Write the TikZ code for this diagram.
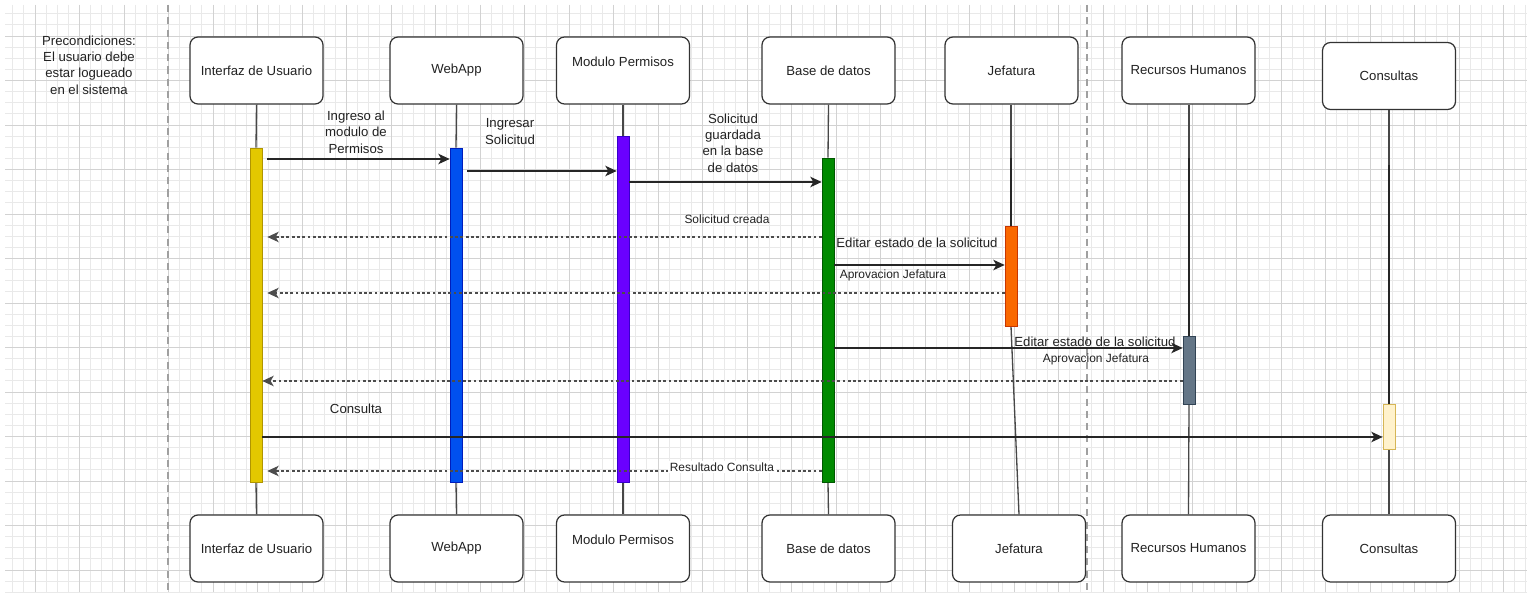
\documentclass[tikz,border=0pt]{standalone}
\usepackage{fontspec}
\setmainfont{Liberation Sans}
\usetikzlibrary{arrows.meta,calc}
\definecolor{txt}{HTML}{222222}
\definecolor{boxborder}{HTML}{333333}
\definecolor{gridminor}{HTML}{E9E9E9}
\definecolor{gridmajor}{HTML}{D2D2D2}
\definecolor{sepcol}{HTML}{A0A0A0}
\definecolor{actyellow}{HTML}{E3C800}
\definecolor{actyellowd}{HTML}{B09500}
\definecolor{actblue}{HTML}{0050EF}
\definecolor{actblued}{HTML}{001DBC}
\definecolor{actpurple}{HTML}{6A00FF}
\definecolor{actpurpled}{HTML}{3700CC}
\definecolor{actgreen}{HTML}{008A00}
\definecolor{actgreend}{HTML}{005700}
\definecolor{actorange}{HTML}{FA6800}
\definecolor{actoranged}{HTML}{C73500}
\definecolor{actslate}{HTML}{647687}
\definecolor{actslated}{HTML}{314354}
\definecolor{actcream}{HTML}{FFF2CC}
\definecolor{actcreamd}{HTML}{D6B656}
\newcommand\dfont{\fontsize{7.5}{9.3}\selectfont}
\newcommand\sfont{\fontsize{6.8}{8.5}\selectfont}
\begin{document}
\begin{tikzpicture}[x=0.02cm,y=-0.02cm,
  box/.style={draw=boxborder, line width=0.7pt, rounded corners=0.16cm, fill=white,
    minimum width=2.66cm, minimum height=1.34cm, inner sep=0pt, font=\dfont, text=txt},
  act/.style n args={3}{fill=#1, draw=#2, line width=0.4pt, minimum width=0.24cm,
    minimum height=#3, inner sep=0pt},
  life/.style={draw=black!72, line width=0.75pt},
  lifethick/.style={draw=black!85, line width=1.1pt},
  msg/.style={draw=black!85, line width=0.65pt, -{Stealth[length=6.5pt,width=6pt,inset=1.8pt]}},
  ret/.style={draw=black!70, line width=0.65pt, dash pattern=on 1.6pt off 1.4pt,
    -{Stealth[length=6.5pt,width=6pt,inset=1.8pt]}},
  lbl/.style={font=\dfont, text=txt, align=center, inner sep=1pt},
  slbl/.style={font=\sfont, text=txt, align=center, inner sep=1pt},
  sep/.style={draw=sepcol, line width=0.6pt, dash pattern=on 4pt off 3pt}
]
\useasboundingbox (0,0) rectangle (1532,594);
\fill[white] (0,0) rectangle (1532,594);
% grid
\begin{scope}
\clip (5,5) rectangle (1527,592);
\foreach \i in {0,...,137} { \draw[gridminor, line width=0.45pt] ({1.625+11.125*\i},5) -- ++(0,587); }
\foreach \i in {0,...,53} { \draw[gridminor, line width=0.45pt] (5,{2.625+11.125*\i}) -- ++(1522,0); }
\foreach \i in {0,...,33} { \draw[gridmajor, line width=0.55pt] ({35+44.5*\i},5) -- ++(0,587); }
\foreach \i in {0,...,12} { \draw[gridmajor, line width=0.55pt] (5,{36+44.5*\i}) -- ++(1522,0); }
\end{scope}
% separators
\coordinate (s1a) at (168,5); \coordinate (s1b) at (168,592);
\coordinate (s2a) at (1087,5); \coordinate (s2b) at (1087,592);
\draw[sep] (s1a) -- (s1b);
\draw[sep] (s2a) -- (s2b);
% precondition
\node[lbl] (pre) at (89,65) {Precondiciones:\\El usuario debe\\estar logueado\\en el sistema};
% top boxes
\node[box] (ui) at (256.5,70.5) {Interfaz de Usuario};
\node[box] (web) at (456.5,70.5) {WebApp};
\node[box] (mod) at (623,70.5) {\raisebox{10pt}{Modulo Permisos}};
\node[box] (db) at (828.5,70.5) {Base de datos};
\node[box] (jef) at (1011.5,70.5) {Jefatura};
\node[box] (rh) at (1188.5,70.5) {Recursos Humanos};
\node[box] (con) at (1389,76) {Consultas};
% bottom boxes
\node[box] (ui2) at (256.5,548.5) {Interfaz de Usuario};
\node[box] (web2) at (456.5,548.5) {WebApp};
\node[box] (mod2) at (623,548.5) {\raisebox{10pt}{Modulo Permisos}};
\node[box] (db2) at (828.5,548.5) {Base de datos};
\node[box] (jef2) at (1019,548.5) {Jefatura};
\node[box] (rh2) at (1188.5,548.5) {Recursos Humanos};
\node[box] (con2) at (1389,548.5) {Consultas};
% activation anchors (invisible placeholders for lifelines)
\node[act={none}{none}{6.68cm}, draw=none, fill=none] (uiA) at (256,315) {};
\node[act={none}{none}{6.68cm}, draw=none, fill=none] (webA) at (456,315) {};
\node[act={none}{none}{6.92cm}, draw=none, fill=none] (modA) at (623,309) {};
\node[act={none}{none}{6.48cm}, draw=none, fill=none] (dbA) at (828,320) {};
\node[act={none}{none}{2cm}, draw=none, fill=none] (jefA) at (1011,276) {};
\node[act={none}{none}{1.36cm}, draw=none, fill=none] (rhA) at (1189,370) {};
\node[act={none}{none}{0.9cm}, draw=none, fill=none] (conA) at (1389,426.5) {};
% lifelines
\draw[life] (ui.south) -- (uiA.north);
\draw[life] (uiA.south) -- (ui2.north);
\draw[life] (web.south) -- (webA.north);
\draw[life] (webA.south) -- (web2.north);
\draw[life] (mod.south) -- (modA.north);
\draw[life] (modA.south) -- (mod2.north);
\draw[life] (db.south) -- (dbA.north);
\draw[life] (dbA.south) -- (db2.north);
\draw[life] (jef.south -| jefA.north) -- (jefA.north |- 0,158) coordinate (jefk);
\draw[lifethick] (jefk) -- (jefA.north);
\draw[life] (jefA.south) -- (jef2.north);
\draw[life] (rh.south -| rhA.north) -- (rhA.north |- 0,158) coordinate (rhk);
\draw[lifethick] (rhk) -- (rhA.north);
\draw[life] (rhA.south) -- (rh2.north);
\draw[life] (con.south) -- (con.south |- 0,165) coordinate (conk);
\draw[lifethick] (conk) -- (conA.north);
\draw[life] (conA.south) -- (con2.north);
% activations
\node[act={actyellow}{actyellowd}{6.68cm}] at (uiA) {};
\node[act={actblue}{actblued}{6.68cm}] at (webA) {};
\node[act={actpurple}{actpurpled}{6.92cm}] at (modA) {};
\node[act={actgreen}{actgreend}{6.48cm}] at (dbA) {};
\node[act={actorange}{actoranged}{2cm}] at (jefA) {};
\node[act={actslate}{actslated}{1.36cm}] at (rhA) {};
\node[act={actcream}{actcreamd}{0.9cm}] at (conA) {};
% messages
\draw[msg, shorten <=0.1cm] (uiA.east |- 0,159) -- (webA.west |- 0,159);
\node[lbl] (l1) at (356,132) {Ingreso al\\modulo de\\Permisos};
\draw[msg, shorten <=0.1cm] (webA.east |- 0,171) -- (modA.west |- 0,171);
\node[lbl] (l2) at (510,131.5) {Ingresar\\Solicitud};
\draw[msg] (modA.east |- 0,182) -- (dbA.west |- 0,182);
\node[lbl] (l3) at (733,143) {Solicitud\\guardada\\en la base\\de datos};
\draw[ret, shorten >=0.1cm] (dbA.west |- 0,237) -- (uiA.east |- 0,237);
\node[slbl] (l4) at (727,219) {Solicitud creada};
\draw[msg] (dbA.east |- 0,265) -- (jefA.west |- 0,265);
\node[lbl] (l5) at (917,243) {Editar estado de la solicitud};
\node[slbl] (l6) at (893,275) {Aprovacion Jefatura};
\draw[ret, shorten >=0.1cm] (jefA.west |- 0,293) -- (uiA.east |- 0,293);
\draw[msg] (dbA.east |- 0,348) -- (rhA.west |- 0,348);
\node[lbl] (l7) at (1095,342) {Editar estado de la solicitud};
\node[slbl] (l8) at (1096,359) {Aprovacion Jefatura};
\draw[ret] (rhA.west |- 0,381) -- (uiA.east |- 0,381);
\draw[msg] (uiA.east |- 0,437) -- (conA.west |- 0,437);
\node[lbl] (l9) at (356,409) {Consulta};
\draw[ret, shorten >=0.1cm] (dbA.west |- 0,471) -- (uiA.east |- 0,471);
\node[slbl, fill=white] (l10) at (722,467) {Resultado Consulta};
\end{tikzpicture}
\end{document}
